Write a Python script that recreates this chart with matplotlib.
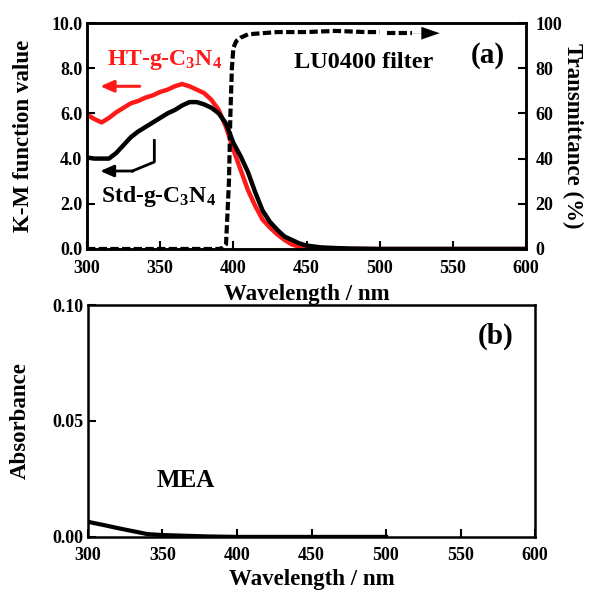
import numpy as np
import matplotlib.pyplot as plt

plt.rcParams['font.family'] = ['Liberation Serif', 'DejaVu Serif']
plt.rcParams['font.weight'] = 'bold'
plt.rcParams['mathtext.fontset'] = 'custom'
plt.rcParams['mathtext.rm'] = 'Liberation Serif:bold'
plt.rcParams['mathtext.it'] = 'Liberation Serif:bold'
plt.rcParams['mathtext.bf'] = 'Liberation Serif:bold'

# K-M function values (panel a)
wl_km = [300, 305, 310, 315, 320, 325, 330, 335, 340, 345, 350, 355, 360, 365,
         370, 375, 380, 385, 390, 395, 400, 405, 410, 415, 420, 425, 430, 435,
         440, 445, 450, 460, 470, 480, 500, 550, 600]
km_ht = [5.95, 5.75, 5.6, 5.8, 6.05, 6.25, 6.45, 6.55, 6.7, 6.8, 6.95, 7.05,
         7.2, 7.3, 7.2, 7.05, 6.9, 6.6, 6.15, 5.4, 4.4, 3.5, 2.6, 1.9, 1.3,
         0.95, 0.65, 0.4, 0.2, 0.1, 0.05, 0.02, 0.0, 0.0, 0.0, 0.0, 0.0]
km_std = [4.05, 4.0, 4.0, 4.0, 4.25, 4.6, 4.95, 5.2, 5.4, 5.6, 5.8, 6.0,
          6.15, 6.35, 6.5, 6.5, 6.4, 6.25, 6.0, 5.55, 4.7, 4.1, 3.4, 2.5,
          1.7, 1.2, 0.85, 0.55, 0.4, 0.25, 0.15, 0.07, 0.04, 0.02, 0.0, 0.0, 0.0]

# LU0400 filter transmittance (%)
wl_tr = [300, 350, 390, 393, 395, 397, 398, 399, 400, 402, 405, 410, 420, 430,
         450, 470, 490, 500]
trans = [0, 0, 0, 0.5, 2, 30, 60, 80, 89, 92, 93.5, 95, 95.5, 96, 96, 96.5,
         96, 96]

# MEA absorbance (panel b)
wl_mea = [300, 310, 320, 330, 340, 350, 360, 380, 400, 450, 500]
abs_mea = [0.0065, 0.0052, 0.0038, 0.0025, 0.0012, 0.0008, 0.0006, 0.0002,
           0.0, 0.0, 0.0]

fig = plt.figure(figsize=(5.9, 5.9), dpi=100)
ax1 = fig.add_axes([0.1475, 0.578, 0.744, 0.383])
ax2 = ax1.twinx()
ax3 = fig.add_axes([0.149, 0.09, 0.758, 0.393])

lw_sp = 1.8
tick_kw = dict(direction='in', length=6, width=1.5, labelsize=13)
lab_fs = 16.5
txt_fs = 17

# panel (a)
ax1.plot(wl_km, km_ht, color='#ff1a1a', lw=3.2)
ax1.plot(wl_km, km_std, color='black', lw=3.2)
ax2.plot(wl_tr, trans, color='black', lw=3, ls=(0, (2, 0.8)))
ax2.plot([505, 522], [95.5, 95.5], color='black', lw=3, ls=(0, (2, 0.8)))
ax2.annotate('', xy=(541, 95.5), xytext=(522, 95.5),
             arrowprops=dict(arrowstyle='-|>,head_length=1.3,head_width=0.45',
                             color='black', lw=0.1, shrinkA=0, shrinkB=0))

ax1.set_xlim(300, 600)
ax1.set_ylim(0, 10)
ax2.set_ylim(0, 100)
ax1.set_xticks([300, 350, 400, 450, 500, 550, 600])
ax1.set_yticks([0, 2, 4, 6, 8, 10])
ax1.set_yticklabels(['%.1f' % v for v in [0, 2, 4, 6, 8, 10]])
ax2.set_yticks([0, 20, 40, 60, 80, 100])
ax1.tick_params(axis='both', **tick_kw)
ax1.tick_params(axis='x', top=False, pad=8)
ax2.tick_params(axis='y', **tick_kw)
ax2.tick_params(axis='y', pad=7)
for ax in (ax1, ax2, ax3):
    for s in ax.spines.values():
        s.set_linewidth(lw_sp)

ax1.set_xlabel('Wavelength / nm', fontsize=lab_fs, fontweight='bold', labelpad=5)
ax1.set_ylabel('K-M function value', fontsize=lab_fs, fontweight='bold', labelpad=12)
ax2.set_ylabel('Transmittance (%)', fontsize=lab_fs, fontweight='bold',
               rotation=270, labelpad=15)

ax1.text(313.7, 8.14, r'HT-g-C$_3$N$_4$', color='#ff1a1a', fontsize=txt_fs,
         fontweight='bold', va='baseline')
ax1.annotate('', xy=(309, 7.2), xytext=(336, 7.2),
             arrowprops=dict(arrowstyle='-|>,head_length=0.8,head_width=0.35',
                             color='#ff1a1a', lw=2.2, shrinkA=0, shrinkB=0))
ax1.text(309.6, 2.08, r'Std-g-C$_3$N$_4$', color='black', fontsize=txt_fs,
         fontweight='bold', va='baseline')
ax1.plot([346, 346, 331], [4.8, 3.85, 3.45], color='black', lw=2)
ax1.annotate('', xy=(309, 3.45), xytext=(331.5, 3.45),
             arrowprops=dict(arrowstyle='-|>,head_length=0.8,head_width=0.35',
                             color='black', lw=2, shrinkA=0, shrinkB=0))
ax1.text(441.5, 8.0, 'LU0400 filter', fontsize=17.5, fontweight='bold',
         va='baseline')
ax1.text(585.5, 8.55, '(a)', fontsize=21, fontweight='bold', va='center',
         ha='right')

# panel (b)
ax3.plot(wl_mea, abs_mea, color='black', lw=3)
ax3.set_xlim(300, 600)
ax3.set_ylim(0, 0.1)
ax3.set_xticks([300, 350, 400, 450, 500, 550, 600])
ax3.set_yticks([0, 0.05, 0.1])
ax3.set_yticklabels(['0.00', '0.05', '0.10'])
ax3.tick_params(axis='both', **tick_kw)
ax3.tick_params(axis='x', pad=7)
ax3.set_xlabel('Wavelength / nm', fontsize=lab_fs, fontweight='bold', labelpad=4)
ax3.set_ylabel('Absorbance', fontsize=lab_fs, fontweight='bold', labelpad=15)
ax3.text(346, 0.0216, 'MEA', fontsize=18, fontweight='bold', va='baseline')
ax3.text(585.5, 0.0866, '(b)', fontsize=21, fontweight='bold', va='center',
         ha='right')

fig.savefig('out.png', dpi=100)
